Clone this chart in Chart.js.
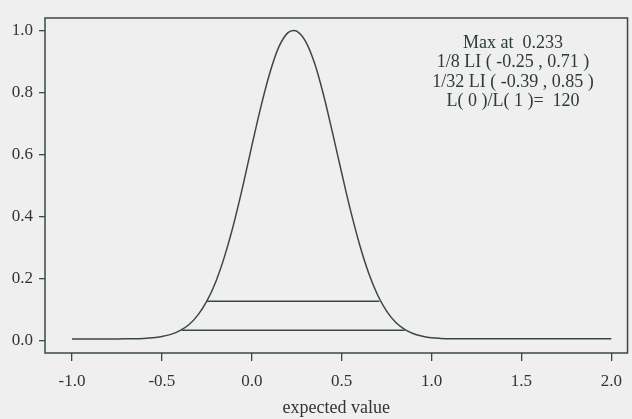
<!DOCTYPE html>
<html>
<head>
<meta charset="utf-8">
<script src="https://cdn.jsdelivr.net/npm/chart.js@4/dist/chart.umd.min.js"></script>
<style>
  html, body { margin: 0; padding: 0; background: #eeefee; }
  #wrap { width: 632px; height: 419px; }
</style>
</head>
<body>
<div id="wrap"><canvas id="c" width="632" height="419"></canvas></div>
<script>
// ---- data ----
const xValues = [-1.0,-0.9,-0.8,-0.7,-0.65,-0.6,-0.55,-0.5,-0.45,-0.4,-0.35,-0.3,-0.25,-0.2,-0.15,-0.1,-0.05,0.0,0.05,0.1,0.15,0.2,0.233,0.25,0.3,0.35,0.4,0.45,0.5,0.55,0.6,0.65,0.7,0.75,0.8,0.85,0.9,0.95,1.0,1.05,1.1,1.2,1.4,1.6,1.8,2.0];
const likelihood = [0.005,0.005,0.005,0.006,0.006,0.007,0.009,0.013,0.020,0.032,0.051,0.082,0.127,0.190,0.274,0.377,0.497,0.627,0.752,0.862,0.946,0.992,1.0,0.998,0.964,0.893,0.790,0.668,0.541,0.418,0.309,0.218,0.147,0.095,0.059,0.036,0.022,0.014,0.009,0.007,0.006,0.006,0.006,0.006,0.006,0.006];
const li8Bounds = [-0.25, 0.71];
const li8Level = 0.127;
const li32Bounds = [-0.39, 0.85];
const li32Level = 0.033;
const xTicks = [-1.0, -0.5, 0.0, 0.5, 1.0, 1.5, 2.0];
const yTicks = [0.0, 0.2, 0.4, 0.6, 0.8, 1.0];
const annotationLines = ["Max at  0.233", "1/8 LI ( -0.25 , 0.71 )", "1/32 LI ( -0.39 , 0.85 )", "L( 0 )/L( 1 )=  120"];
const xTitle = "expected value";

const ink = '#3b4845';
const serif = "'Liberation Serif', 'DejaVu Serif', serif";

const curve = xValues.map((x, i) => ({x: x, y: likelihood[i]}));
const li8 = li8Bounds.map(x => ({x: x, y: li8Level}));
const li32 = li32Bounds.map(x => ({x: x, y: li32Level}));

const boxPlugin = {
  id: 'box',
  beforeDraw(chart) {
    const ctx = chart.ctx;
    ctx.save();
    ctx.fillStyle = '#eeefee';
    ctx.fillRect(0, 0, chart.width, chart.height);
    ctx.restore();
  },
  afterDraw(chart) {
    const {ctx, chartArea: a} = chart;
    ctx.save();
    ctx.strokeStyle = ink;
    ctx.lineWidth = 1.5;
    ctx.strokeRect(a.left, a.top, a.right - a.left, a.bottom - a.top);
    ctx.fillStyle = '#2e3a38';
    ctx.font = "18px " + serif;
    ctx.textAlign = 'center';
    ctx.textBaseline = 'middle';
    const cx = 513, y0 = 43, dy = 19.5;
    annotationLines.forEach((t, i) => ctx.fillText(t, cx, y0 + i * dy));
    ctx.restore();
  }
};

new Chart(document.getElementById('c'), {
  type: 'line',
  data: {
    datasets: [
      {data: curve, borderColor: ink, borderWidth: 1.5, pointRadius: 0, tension: 0.4, cubicInterpolationMode: 'monotone', fill: false},
      {data: li8, borderColor: ink, borderWidth: 1.5, pointRadius: 0, fill: false},
      {data: li32, borderColor: ink, borderWidth: 1.5, pointRadius: 0, fill: false}
    ]
  },
  options: {
    responsive: false,
    animation: false,
    devicePixelRatio: 1,
    layout: {padding: {top: 18, right: 1, left: 0, bottom: 0}},
    plugins: {legend: {display: false}, tooltip: {enabled: false}},
    scales: {
      x: {
        type: 'linear',
        min: -1.15, max: 2.09,
        afterBuildTicks: s => { s.ticks = xTicks.map(v => ({value: v})); },
        afterFit: s => { s.height = 66; },
        grid: {display: true, drawOnChartArea: false, drawTicks: true, tickLength: 8, color: ink, lineWidth: 1.3},
        border: {display: false},
        ticks: {color: '#333', font: {family: serif, size: 17}, padding: 10, maxRotation: 0, callback: v => v.toFixed(1)},
        title: {display: true, text: xTitle, color: '#333', font: {family: serif, size: 18}, padding: {top: 4, bottom: 0}}
      },
      y: {
        type: 'linear',
        min: -0.04, max: 1.04,
        afterBuildTicks: s => { s.ticks = yTicks.map(v => ({value: v})); },
        afterFit: s => { s.width = 45; },
        grid: {display: true, drawOnChartArea: false, drawTicks: true, tickLength: 6, color: ink, lineWidth: 1.3},
        border: {display: false},
        ticks: {color: '#333', font: {family: serif, size: 17}, padding: 6, callback: v => v.toFixed(1)}
      }
    }
  },
  plugins: [boxPlugin]
});
</script>
</body>
</html>
